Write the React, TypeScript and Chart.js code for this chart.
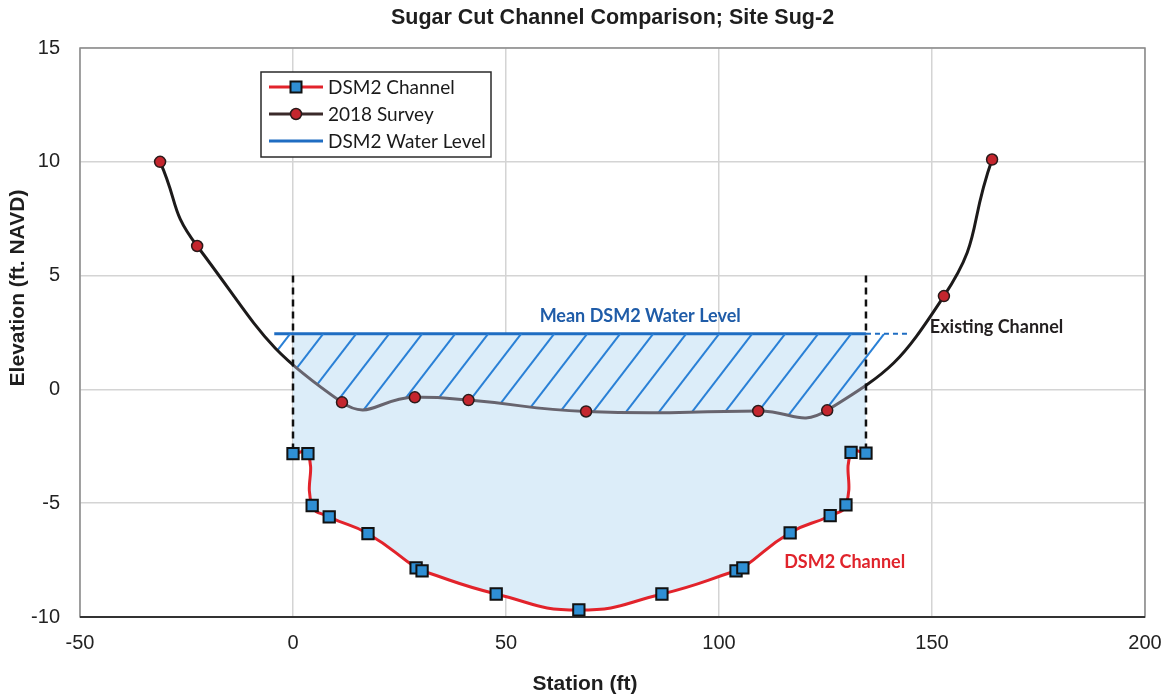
import React, { useEffect, useRef } from 'react';
import { Chart, registerables } from 'chart.js';

Chart.register(...registerables);

// Cross-section values (station in ft, elevation in ft NAVD)
const CHANNEL_STATION = [0, 3.5, 4.5, 8.5, 17.6, 28.9, 30.3, 47.7, 67.1, 86.6, 104.0, 105.6, 116.7, 126.1, 129.8, 131.0, 134.5];
const CHANNEL_ELEV = [-2.82, -2.82, -5.1, -5.6, -6.34, -7.84, -7.97, -8.99, -9.69, -8.99, -7.97, -7.84, -6.3, -5.55, -5.07, -2.77, -2.8];

const SURVEY_STATION = [-31.2, -22.5, 11.5, 28.6, 41.2, 68.8, 109.2, 125.4, 152.8, 164.1];
const SURVEY_ELEV = [10.0, 6.3, -0.57, -0.35, -0.47, -0.97, -0.95, -0.92, 4.1, 10.1];

const WATER_LEVEL = 2.45;
const WATER_START = -4.4;
const WATER_EXT_END = 145;
const BANK_LEFT = CHANNEL_STATION[0];
const BANK_RIGHT = CHANNEL_STATION[CHANNEL_STATION.length - 1];
const BANK_TOP = 5;
const HATCH_END = 138.8;

const X_TICKS = [-50, 0, 50, 100, 150, 200];
const Y_TICKS = [-10, -5, 0, 5, 10, 15];

const TITLE = 'Sugar Cut Channel Comparison; Site Sug-2';
const X_TITLE = 'Station (ft)';
const Y_TITLE = 'Elevation (ft. NAVD)';
const LEGEND_LABELS = ['DSM2 Channel', '2018 Survey', 'DSM2 Water Level'];

const ANNOTATIONS = [
  { text: 'Mean DSM2 Water Level', x: 81.5, y: 3.2, color: '#1f5ca8', align: 'center' },
  { text: 'Existing Channel', x: 149.5, y: 2.72, color: '#231f20', align: 'left' },
  { text: 'DSM2 Channel', x: 115.3, y: -7.58, color: '#e0242c', align: 'left' },
];

const RED = '#e2232b';
const SQUARE_FILL = '#2f8fd4';
const SURVEY_COLOR = '#1c1a1a';
const SURVEY_SUBMERGED = '#67646e';
const SURVEY_POINT = '#c4262e';
const WATER_COLOR = '#1f6dc2';
const HATCH_COLOR = '#2a80d6';
const FILL_COLOR = '#dcedf9';

const SURVEY_INDEX = 3;

const pts = (xs: number[], ys: number[]) => xs.map((x, i) => ({ x, y: ys[i] }));

const hatchPlugin = {
  id: 'hatch',
  beforeDatasetDraw(chart: any, args: any) {
    if (args.index !== SURVEY_INDEX) return;
    const meta = chart.getDatasetMeta(SURVEY_INDEX);
    const line = meta.dataset;
    const { ctx, chartArea, scales } = chart;
    line.updateControlPoints(chartArea, 'x');
    const p = meta.data;
    const wy = scales.y.getPixelForValue(WATER_LEVEL);
    ctx.save();
    ctx.beginPath();
    ctx.rect(chartArea.left, wy, chartArea.right - chartArea.left, chartArea.bottom - wy);
    ctx.clip();
    ctx.beginPath();
    line.path(ctx);
    ctx.lineTo(p[p.length - 1].x, chartArea.top);
    ctx.lineTo(p[0].x, chartArea.top);
    ctx.closePath();
    ctx.clip();
    ctx.strokeStyle = HATCH_COLOR;
    ctx.lineWidth = 2;
    const spacing = 33;
    const slope = 1.3;
    const h = chartArea.bottom - wy;
    let xTop = scales.x.getPixelForValue(HATCH_END);
    while (xTop > chartArea.left) {
      ctx.beginPath();
      ctx.moveTo(xTop, wy);
      ctx.lineTo(xTop - h / slope, wy + h);
      ctx.stroke();
      xTop -= spacing;
    }
    ctx.restore();
  },
};

const framePlugin = {
  id: 'frame',
  beforeDatasetsDraw(chart: any) {
    const { ctx, chartArea: a } = chart;
    ctx.save();
    ctx.strokeStyle = '#8a8a8a';
    ctx.lineWidth = 1.5;
    ctx.strokeRect(a.left, a.top, a.right - a.left, a.bottom - a.top);
    ctx.strokeStyle = '#333';
    ctx.lineWidth = 2;
    ctx.beginPath();
    ctx.moveTo(a.left, a.bottom);
    ctx.lineTo(a.right, a.bottom);
    ctx.stroke();
    ctx.restore();
  },
};

const textPlugin = {
  id: 'texts',
  afterDraw(chart: any) {
    const { ctx, chartArea: a, scales } = chart;
    ctx.save();
    ctx.textBaseline = 'middle';

    // title
    ctx.fillStyle = '#1e1e1e';
    ctx.textAlign = 'center';
    ctx.font = '700 21.5px "Liberation Sans", Arial, sans-serif';
    ctx.fillText(TITLE, (a.left + a.right) / 2, 18);

    // axis titles
    ctx.font = '700 21px "Liberation Sans", Arial, sans-serif';
    ctx.fillText(X_TITLE, 585, 684);
    ctx.save();
    ctx.translate(18, 288);
    ctx.rotate(-Math.PI / 2);
    ctx.fillText(Y_TITLE, 0, 0);
    ctx.restore();

    // annotations
    ctx.font = '700 18px Lato, "Open Sans", sans-serif';
    for (const n of ANNOTATIONS) {
      ctx.fillStyle = n.color;
      ctx.textAlign = n.align as CanvasTextAlign;
      ctx.fillText(n.text, scales.x.getPixelForValue(n.x), scales.y.getPixelForValue(n.y));
    }

    // legend
    const lx = a.left + 181;
    const ly = a.top + 24;
    const lw = 230;
    const lh = 85;
    ctx.fillStyle = '#fff';
    ctx.fillRect(lx, ly, lw, lh);
    ctx.strokeStyle = '#2a2a2a';
    ctx.lineWidth = 1.5;
    ctx.strokeRect(lx, ly, lw, lh);
    const rows = [ly + 15, ly + 42, ly + 69];
    const x0 = lx + 8;
    const x1 = lx + 62;
    const xm = (x0 + x1) / 2;
    const lineColors = [RED, '#3a2a2a', WATER_COLOR];
    rows.forEach((ry, i) => {
      ctx.strokeStyle = lineColors[i];
      ctx.lineWidth = 3;
      ctx.beginPath();
      ctx.moveTo(x0, ry);
      ctx.lineTo(x1, ry);
      ctx.stroke();
      if (i === 0) {
        ctx.fillStyle = SQUARE_FILL;
        ctx.fillRect(xm - 5.5, ry - 5.5, 11, 11);
        ctx.strokeStyle = '#111';
        ctx.lineWidth = 2;
        ctx.strokeRect(xm - 5.5, ry - 5.5, 11, 11);
      } else if (i === 1) {
        ctx.beginPath();
        ctx.arc(xm, ry, 5.5, 0, Math.PI * 2);
        ctx.fillStyle = SURVEY_POINT;
        ctx.fill();
        ctx.strokeStyle = '#2a1a1a';
        ctx.lineWidth = 1.5;
        ctx.stroke();
      }
      ctx.fillStyle = '#1a1a1a';
      ctx.textAlign = 'left';
      ctx.font = '400 19px Lato, "Open Sans", sans-serif';
      ctx.fillText(LEGEND_LABELS[i], x1 + 5, ry + 1);
    });
    ctx.restore();
  },
};

export default function App() {
  const canvasRef = useRef<HTMLCanvasElement | null>(null);

  useEffect(() => {
    if (!canvasRef.current) return;

    const surveyBorder = (c: any) => {
      const chart = c.chart;
      const area = chart.chartArea;
      if (!area || !chart.scales || !chart.scales.x) return SURVEY_COLOR;
      const xs = chart.scales.x;
      const w = area.right - area.left;
      const fa = Math.min(1, Math.max(0, (xs.getPixelForValue(BANK_LEFT) - area.left) / w));
      const fb = Math.min(1, Math.max(0, (xs.getPixelForValue(BANK_RIGHT) - area.left) / w));
      const g = chart.ctx.createLinearGradient(area.left, 0, area.right, 0);
      g.addColorStop(0, SURVEY_COLOR);
      g.addColorStop(fa, SURVEY_COLOR);
      g.addColorStop(fa, SURVEY_SUBMERGED);
      g.addColorStop(fb, SURVEY_SUBMERGED);
      g.addColorStop(fb, SURVEY_COLOR);
      g.addColorStop(1, SURVEY_COLOR);
      return g;
    };

    const tickFont = { family: '"Liberation Sans", Arial, sans-serif', size: 20 };

    const chart = new Chart(canvasRef.current, {
      type: 'line',
      data: {
        datasets: [
          {
            label: LEGEND_LABELS[0],
            data: pts(CHANNEL_STATION, CHANNEL_ELEV),
            borderColor: RED,
            borderWidth: 3,
            tension: 0.5,
            fill: { value: WATER_LEVEL },
            backgroundColor: FILL_COLOR,
            pointStyle: 'rect',
            pointRadius: 8,
            pointBackgroundColor: SQUARE_FILL,
            pointBorderColor: '#111',
            pointBorderWidth: 2,
          },
          {
            label: 'left bank',
            data: pts([BANK_LEFT, BANK_LEFT], [BANK_TOP, CHANNEL_ELEV[0]]),
            borderColor: '#111',
            borderWidth: 2.5,
            borderDash: [7, 5],
            pointRadius: 0,
            fill: false,
          },
          {
            label: 'right bank',
            data: pts([BANK_RIGHT, BANK_RIGHT], [BANK_TOP, CHANNEL_ELEV[CHANNEL_ELEV.length - 1]]),
            borderColor: '#111',
            borderWidth: 2.5,
            borderDash: [7, 5],
            pointRadius: 0,
            fill: false,
          },
          {
            label: LEGEND_LABELS[1],
            data: pts(SURVEY_STATION, SURVEY_ELEV),
            borderColor: surveyBorder,
            borderWidth: 3,
            tension: 0.5,
            fill: false,
            pointRadius: 5.5,
            pointBackgroundColor: SURVEY_POINT,
            pointBorderColor: '#2a1a1a',
            pointBorderWidth: 1.5,
          },
          {
            label: LEGEND_LABELS[2],
            data: pts([WATER_START, BANK_RIGHT], [WATER_LEVEL, WATER_LEVEL]),
            borderColor: WATER_COLOR,
            borderWidth: 3,
            pointRadius: 0,
            fill: false,
          },
          {
            label: 'water level extension',
            data: pts([BANK_RIGHT, WATER_EXT_END], [WATER_LEVEL, WATER_LEVEL]),
            borderColor: WATER_COLOR,
            borderWidth: 2,
            borderDash: [5, 4],
            pointRadius: 0,
            fill: false,
          },
        ],
      },
      options: {
        animation: false,
        responsive: true,
        maintainAspectRatio: false,
        layout: { padding: { left: 0, right: 25, top: 48, bottom: 0 } },
        plugins: {
          legend: { display: false },
          tooltip: { enabled: false },
          title: { display: false },
          filler: { drawTime: 'beforeDatasetsDraw' },
        },
        scales: {
          x: {
            type: 'linear',
            min: X_TICKS[0],
            max: X_TICKS[X_TICKS.length - 1],
            ticks: { stepSize: X_TICKS[1] - X_TICKS[0], font: tickFont, color: '#222', padding: 14, maxRotation: 0 },
            grid: { color: '#d4d4d4', lineWidth: 1.5, drawTicks: false },
            border: { display: false },
            afterFit: (s: any) => {
              s.height = 79;
              s.paddingLeft = 0;
              s.paddingRight = 0;
            },
          },
          y: {
            type: 'linear',
            min: Y_TICKS[0],
            max: Y_TICKS[Y_TICKS.length - 1],
            ticks: { stepSize: Y_TICKS[1] - Y_TICKS[0], font: tickFont, color: '#222', padding: 20 },
            grid: { color: '#d4d4d4', lineWidth: 1.5, drawTicks: false },
            border: { display: false },
            afterFit: (s: any) => {
              s.width = 80;
              s.paddingTop = 0;
              s.paddingBottom = 0;
            },
          },
        },
      },
      plugins: [framePlugin, hatchPlugin, textPlugin],
    } as any);

    return () => chart.destroy();
  }, []);

  return (
    <div style={{ position: 'absolute', left: 0, top: 0, width: 1170, height: 696, background: '#fff' }}>
      <canvas ref={canvasRef} />
    </div>
  );
}
